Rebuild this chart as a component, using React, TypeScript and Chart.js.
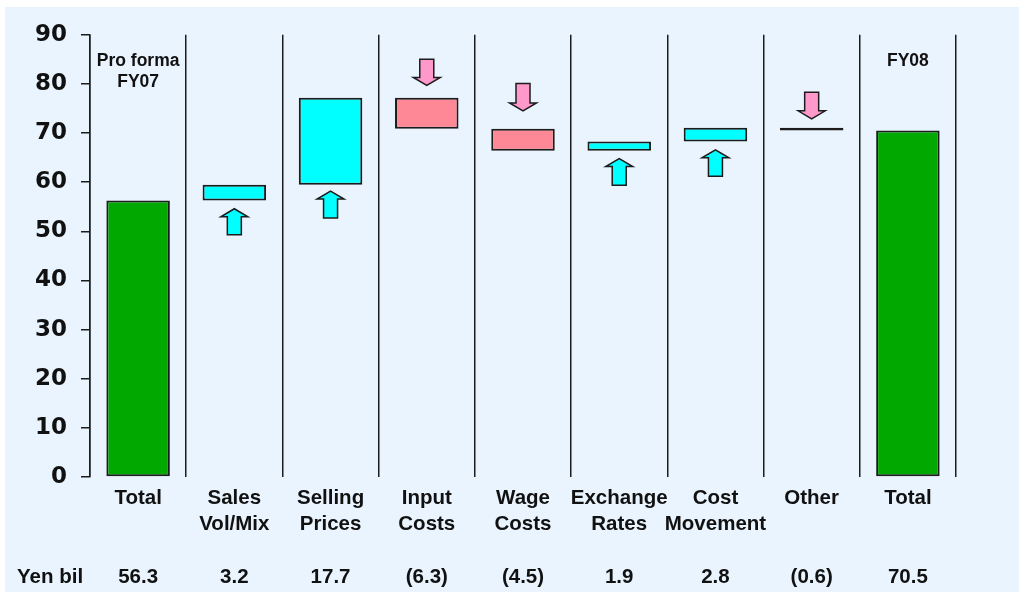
import React, { useEffect, useRef } from "react";
import { Chart, registerables } from "chart.js";

Chart.register(...registerables);

// ---- data ----
const categories: string[][] = [
  ["Total"],
  ["Sales", "Vol/Mix"],
  ["Selling", "Prices"],
  ["Input", "Costs"],
  ["Wage", "Costs"],
  ["Exchange", "Rates"],
  ["Cost", "Movement"],
  ["Other"],
  ["Total"],
];
const valueLabels = ["56.3", "3.2", "17.7", "(6.3)", "(4.5)", "1.9", "2.8", "(0.6)", "70.5"];
const changes = [56.3, 3.2, 17.7, -6.3, -4.5, 1.9, 2.8, -0.6, 70.5];
const isTotal = [true, false, false, false, false, false, false, false, true];
const arrowTail: (number | null)[] = [null, 49.3, 52.7, 85.0, 80.1, 59.4, 61.2, 78.3, null];
const arrowTip: (number | null)[] = [null, 54.6, 58.2, 79.7, 74.5, 64.8, 66.6, 72.9, null];
const topLabels: string[][] = [["Pro forma", "FY07"], [], [], [], [], [], [], [], ["FY08"]];
const topLabelValue = 84.7;
const unitLabel = "Yen bil";
const yMin = 0;
const yMax = 90;
const yStep = 10;

// ---- styles ----
const BG = "#EAF4FE";
const GREEN = "#00A800";
const CYAN = "#00FFFF";
const PINK_BAR = "#FF8896";
const PINK_ARROW = "#FF99CC";
const EDGE = "#1c1c1c";
const FONT = "'Liberation Sans', Arial, sans-serif";

function buildFloating(): [number, number][] {
  const out: [number, number][] = [];
  let run = 0;
  changes.forEach((c, i) => {
    if (isTotal[i]) {
      out.push([0, c]);
      run = c;
    } else {
      out.push([run, run + c]);
      run = run + c;
    }
  });
  return out;
}

const overlayPlugin = {
  id: "overlay",
  afterDatasetsDraw(chart: any) {
    const ctx = chart.ctx as CanvasRenderingContext2D;
    const xs = chart.scales.x;
    const ys = chart.scales.y;
    ctx.save();
    // arrows
    for (let i = 0; i < categories.length; i++) {
      const tail = arrowTail[i];
      const tip = arrowTip[i];
      if (tail == null || tip == null) continue;
      const x = xs.getPixelForValue(i);
      const yTail = ys.getPixelForValue(tail);
      const yTip = ys.getPixelForValue(tip);
      const dir = yTip > yTail ? 1 : -1;
      const headLen = 8;
      const headHalf = 13.5;
      const shaftHalf = 7;
      const yNeck = yTip - dir * headLen;
      ctx.beginPath();
      ctx.moveTo(x - shaftHalf, yTail);
      ctx.lineTo(x - shaftHalf, yNeck);
      ctx.lineTo(x - headHalf, yNeck);
      ctx.lineTo(x, yTip);
      ctx.lineTo(x + headHalf, yNeck);
      ctx.lineTo(x + shaftHalf, yNeck);
      ctx.lineTo(x + shaftHalf, yTail);
      ctx.closePath();
      ctx.fillStyle = dir > 0 ? PINK_ARROW : CYAN;
      ctx.fill();
      ctx.lineWidth = 1.5;
      ctx.strokeStyle = EDGE;
      ctx.stroke();
    }
    // top labels
    ctx.fillStyle = "#111";
    ctx.font = `bold 17.5px ${FONT}`;
    ctx.textAlign = "center";
    ctx.textBaseline = "middle";
    for (let i = 0; i < topLabels.length; i++) {
      const lines = topLabels[i];
      const x = xs.getPixelForValue(i);
      const y0 = ys.getPixelForValue(topLabelValue);
      lines.forEach((t, k) => ctx.fillText(t, x, y0 + k * 21));
    }
    // unit label on value row
    ctx.font = `bold 20.5px ${FONT}`;
    ctx.textAlign = "left";
    ctx.fillText(unitLabel, 12, xs.top + 8 + 26.5 * 3.5);
    ctx.restore();
  },
};

export default function App() {
  const ref = useRef<HTMLCanvasElement | null>(null);
  useEffect(() => {
    if (!ref.current) return;
    const floating = buildFloating();
    const colors = changes.map((c, i) => (isTotal[i] ? GREEN : c >= 0 ? CYAN : PINK_BAR));
    const labels = categories.map((c, i) => [c[0], c[1] ?? "", "", valueLabels[i]]);
    const chart = new Chart(ref.current, {
      type: "bar",
      data: {
        labels: labels as any,
        datasets: [
          {
            data: floating as any,
            backgroundColor: colors,
            borderColor: EDGE,
            borderWidth: 2,
            borderSkipped: false,
            barPercentage: 0.66,
            categoryPercentage: 1,
          },
        ],
      },
      options: {
        animation: false,
        responsive: false,
        layout: { padding: { top: 17, right: 63, left: 0, bottom: 0 } },
        plugins: { legend: { display: false }, tooltip: { enabled: false } },
        scales: {
          x: {
            offset: true,
            grid: { offset: true, color: EDGE, lineWidth: 1.5, drawTicks: false },
            border: { display: false },
            ticks: {
              autoSkip: false,
              maxRotation: 0,
              padding: 8,
              color: "#111",
              font: { family: FONT, size: 20.5, weight: "bold", lineHeight: 26.5 / 20.5 },
            },
            afterFit: (s: any) => {
              s.height = 115;
            },
          },
          y: {
            min: yMin,
            max: yMax,
            grid: { drawOnChartArea: false, drawTicks: true, tickLength: 9, color: EDGE, lineWidth: 1.5 },
            border: { display: true, color: EDGE, width: 1.5 },
            ticks: {
              stepSize: yStep,
              padding: 14,
              color: "#111",
              font: { family: "'DejaVu Sans', sans-serif", size: 23, weight: "bold" },
            },
            afterFit: (s: any) => {
              s.width = 85;
            },
          },
        },
      },
      plugins: [overlayPlugin],
    });
    return () => chart.destroy();
  }, []);
  return (
    <div style={{ position: "absolute", left: 5, top: 7, width: 1014, height: 585, background: BG }}>
      <canvas ref={ref} width={1014} height={585} style={{ display: "block" }} />
    </div>
  );
}
